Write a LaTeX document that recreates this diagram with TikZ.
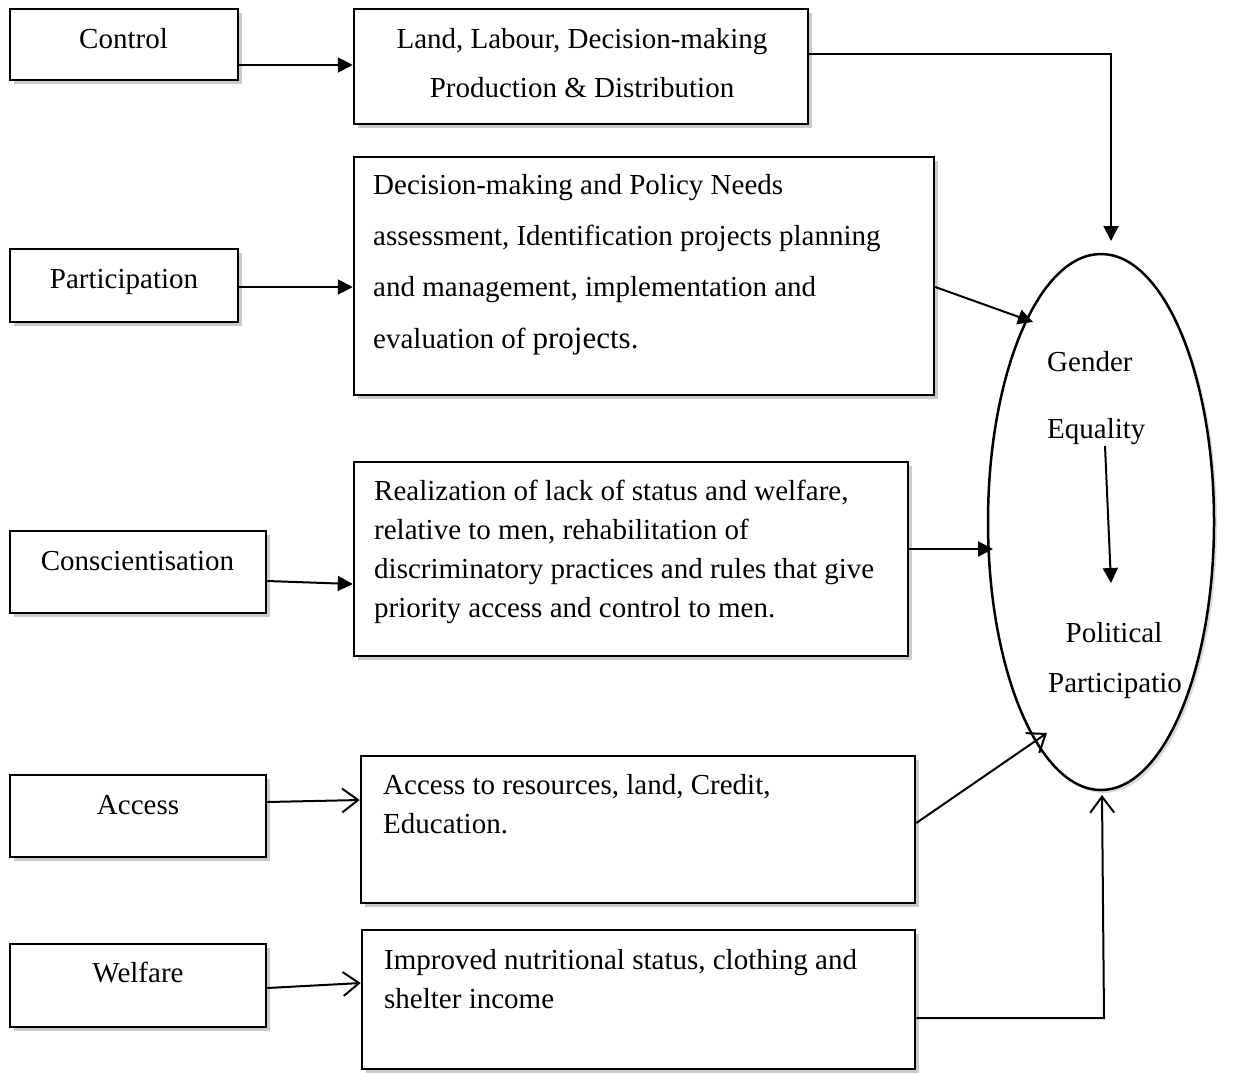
\documentclass[tikz,border=0pt]{standalone}
\usepackage{fontspec}
\setmainfont{Liberation Serif}
\usetikzlibrary{arrows.meta,shadows,shapes.geometric}
\tikzset{
  box/.style={draw, line width=2.5pt, fill=white, inner sep=0pt,
    drop shadow={shadow xshift=4pt, shadow yshift=-4pt, fill=black!45, opacity=.45}},
  lbl/.style={inner sep=0pt, font=\fontsize{29}{39}\selectfont},
  conn/.style={line width=2pt},
  full/.style={conn, -{Triangle[length=15pt,width=15pt]}},
  open/.style={conn, -{Straight Barb[length=16pt,width=24pt,line width=2pt]}}
}
\begin{document}
\begin{tikzpicture}[x=1pt,y=-1pt]
\useasboundingbox (0,0) rectangle (1246,1072);
% left boxes
\node[box, minimum width=228pt, minimum height=71pt] (c1) at (124,44.5) {};
\node[box, minimum width=228pt, minimum height=73pt] (c2) at (124,285.5) {};
\node[box, minimum width=256pt, minimum height=82pt] (c3) at (138,572) {};
\node[box, minimum width=256pt, minimum height=82pt] (c4) at (138,816) {};
\node[box, minimum width=256pt, minimum height=83pt] (c5) at (138,985.5) {};
% right boxes
\node[box, minimum width=454pt, minimum height=115pt] (b1) at (581,66.5) {};
\node[box, minimum width=580pt, minimum height=238pt] (b2) at (644,276) {};
\node[box, minimum width=554pt, minimum height=194pt] (b3) at (631,559) {};
\node[box, minimum width=554pt, minimum height=147pt] (b4) at (638,829.5) {};
\node[box, minimum width=553pt, minimum height=139pt] (b5) at (638.5,999.5) {};
% ellipse
\node[ellipse, draw, line width=2.5pt, fill=white, minimum width=226pt, minimum height=536pt, inner sep=0pt,
  drop shadow={shadow xshift=3pt, shadow yshift=-3pt, fill=black!40, opacity=.35}] (e) at (1101,522) {};
% labels of left boxes
\node[lbl, anchor=base] (t1) at (123.5,48) {Control};
\node[lbl, anchor=base] (t2) at (124,288) {Participation};
\node[lbl, anchor=base] (t3) at (137.5,570) {Conscientisation};
\node[lbl, anchor=base] (t4) at (138,814) {Access};
\node[lbl, anchor=base] (t5) at (138,982) {Welfare};
% texts of right boxes
\node[lbl, anchor=north, align=center, font=\fontsize{29}{49}\selectfont] (s1) at (582,28)
  {Land, Labour, Decision-making\\Production \& Distribution};
\node[lbl, anchor=north west, align=left, font=\fontsize{29}{51.3}\selectfont] (s2) at (373,174)
  {Decision-making and Policy Needs\\assessment, Identification projects planning\\and management, implementation and\\evaluation of {\fontsize{31}{51.3}\selectfont projects.}};
\node[lbl, anchor=north west, align=left] (s3) at (374,480)
  {Realization of lack of status and welfare,\\relative to men, rehabilitation of\\discriminatory practices and rules that give\\priority access and control to men.};
\node[lbl, anchor=north west, align=left] (s4) at (383,774)
  {Access to resources, land, Credit,\\Education.};
\node[lbl, anchor=north west, align=left] (s5) at (384,949)
  {Improved nutritional status, clothing and\\shelter income};
% ellipse texts
\node[lbl, anchor=base west] (g) at (1047,371) {Gender};
\node[lbl, anchor=base west] (q) at (1047,438) {Equality};
\node[lbl, anchor=base] (p) at (1114,642) {Political};
\node[lbl, anchor=base] (pp) at (1115,692) {Participatio};
% coordinates
\coordinate (k1) at (1111,54);
\coordinate (e1) at (1111,241);
\coordinate (e2) at (1033,322);
\coordinate (e3) at (993,549);
\coordinate (e4) at (1047,733);
\coordinate (k5) at (1104,1018);
\coordinate (e5) at (1102,795);
\coordinate (g1) at (1105,446);
\coordinate (g2) at (1111,583);
% connectors
\draw[full] (c1.east |- 0,65) -- (b1.west |- 0,65);
\draw[full] (c2.east |- 0,287) -- (b2.west |- 0,287);
\draw[full] (c3.east |- 0,581) -- (b3.west |- 0,584);
\draw[open] (c4.east |- 0,802) -- (b4.west |- 0,800);
\draw[open] (c5.east |- 0,988) -- (b5.west |- 0,983);
\draw[full] (b1.east |- k1) -- (k1) -- (e1);
\draw[full] (b2.east |- 0,287) -- (e2);
\draw[full] (b3.east |- e3) -- (e3);
\draw[open] (b4.east |- 0,823) -- (e4);
\draw[open] (b5.east |- k5) -- (k5) -- (e5);
\draw[full] (g1) -- (g2);
\end{tikzpicture}
\end{document}
